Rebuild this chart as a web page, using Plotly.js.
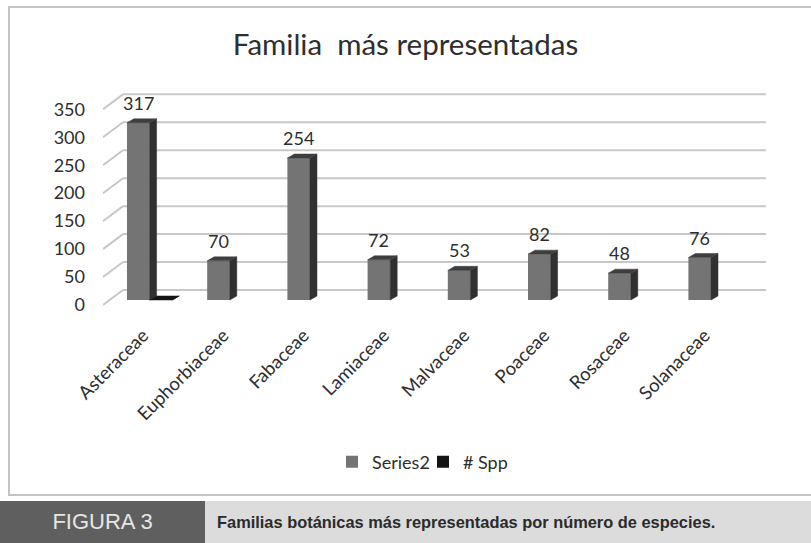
<!DOCTYPE html>
<html>
<head>
<meta charset="utf-8">
<script src="https://cdn.plot.ly/plotly-3.0.1.min.js"></script>
<style>
  html, body { margin: 0; padding: 0; background: #ffffff; }
  #wrap { position: relative; width: 811px; height: 543px; overflow: hidden; }
  #chart { position: absolute; left: 0; top: 0; width: 811px; height: 543px; }
  #frame { position: absolute; left: 8px; top: 6px; width: 810px; height: 486px;
           border: 2px solid #c4c4c4; border-right: none; pointer-events: none; }
  #capL { position: absolute; left: 0; top: 501px; width: 205px; height: 42px; background: #5f5f5f;
          color: #e6e6e6; font-family: "Liberation Sans", Arial, sans-serif; font-size: 22px;
          line-height: 42px; text-align: center; }
  #capR { position: absolute; left: 205px; top: 501px; width: 606px; height: 42px; background: #dcdcdc;
          color: #2b2b2b; font-family: "Liberation Sans Narrow", "Liberation Sans", Arial, sans-serif;
          font-size: 16.4px; font-weight: bold; line-height: 42px; padding-left: 12px; box-sizing: border-box; }
</style>
</head>
<body>
<div id="wrap">
  <div id="chart"></div>
  <div id="frame"></div>
  <div id="capL">FIGURA 3</div>
  <div id="capR">Familias botánicas más representadas por número de especies.</div>
</div>
<script>
// ---- data ----
const categories = ['Asteraceae','Euphorbiaceae','Fabaceae','Lamiaceae','Malvaceae','Poaceae','Rosaceae','Solanaceae'];
const series2 = [317, 70, 254, 72, 53, 82, 48, 76];
const spp = [0, null, null, null, null, null, null, null];
const yTicks = [0, 50, 100, 150, 200, 250, 300, 350];
const seriesNames = ['Series2', '# Spp'];
const chartTitle = 'Familia\u00a0 más representadas';

// ---- pseudo-3D geometry (style) ----
const S2_OFF = -0.121, SPP_OFF = 0.161, BAR_W = 0.282, BASE = 8.9;
const DX = 0.087, DY = 7.2;
const WALL_X0 = -0.561, WALL_DX = 0.249, WALL_DY = 26.8, WALL_X1 = 7.706;
const TICK_OFF = -0.06;
const FRONT = '#747474', SIDE = '#303030', TOP = '#3e3e3e', BLACK = '#141414';

const idx = categories.map((c, i) => i);

function faces(values, off) {
  const side = {x: [], y: []}, top = {x: [], y: []};
  values.forEach((v, i) => {
    if (v === null) return;
    const xl = i + off - BAR_W / 2, xr = i + off + BAR_W / 2;
    const y0 = BASE, y1 = BASE + v;
    side.x.push(xr, xr + DX, xr + DX, xr, xr, null);
    side.y.push(y0, y0 + DY, y1 + DY, y1, y0, null);
    top.x.push(xl, xl + DX, xr + DX, xr, xl, null);
    top.y.push(y1, y1 + DY, y1 + DY, y1, y1, null);
  });
  return {side, top};
}
const f2 = faces(series2, S2_OFF);
const fs = faces(spp, SPP_OFF);

function poly(p, color) {
  return {type: 'scatter', mode: 'lines', x: p.x, y: p.y, fill: 'toself', fillcolor: color,
          line: {color: color, width: 0.5}, showlegend: false, hoverinfo: 'skip'};
}

const traces = [
  {type: 'bar', name: seriesNames[0], x: idx.map(i => i + S2_OFF), y: series2, base: BASE,
   width: BAR_W, marker: {color: FRONT, line: {width: 0}}, hoverinfo: 'skip'},
  {type: 'bar', name: seriesNames[1], x: idx.map(i => i + SPP_OFF), y: spp, base: BASE,
   width: BAR_W, marker: {color: BLACK, line: {width: 0}}, hoverinfo: 'skip'},
  poly(f2.side, SIDE), poly(f2.top, TOP),
  poly(fs.side, BLACK), poly(fs.top, BLACK)
];

const shapes = [];
yTicks.forEach(t => {
  shapes.push({type: 'line', xref: 'x', yref: 'y', layer: 'below',
               x0: WALL_X0, y0: t, x1: WALL_X0 + WALL_DX, y1: t + WALL_DY,
               line: {color: '#c8c8c8', width: 2}});
  shapes.push({type: 'line', xref: 'x', yref: 'y', layer: 'below',
               x0: WALL_X0 + WALL_DX, y0: t + WALL_DY, x1: WALL_X1, y1: t + WALL_DY,
               line: {color: '#c8c8c8', width: 2}});
});

const annotations = series2.map((v, i) => ({
  x: i + S2_OFF, y: BASE + v, xref: 'x', yref: 'y', text: String(v), showarrow: false,
  yanchor: 'middle', yshift: 20, font: {family: 'Lato, sans-serif', size: 18, color: '#2e2e2e'}
}));

const layout = {
  width: 811, height: 543,
  margin: {l: 103, r: 31, t: 93, b: 226},
  paper_bgcolor: 'rgba(0,0,0,0)', plot_bgcolor: 'rgba(0,0,0,0)',
  barmode: 'overlay',
  title: {text: chartTitle, x: 0.5, xref: 'container', xanchor: 'center',
          y: 1 - 45 / 543, yref: 'container', yanchor: 'middle',
          font: {family: 'Lato, sans-serif', size: 29.5, color: '#2e2e2e'}},
  xaxis: {range: [-0.561, 7.880], tickvals: idx.map(i => i + TICK_OFF), ticktext: categories, tickangle: -45,
          showgrid: false, zeroline: false, showline: false, ticks: '', ticklabelstandoff: 3,
          tickfont: {family: 'Lato, sans-serif', size: 18.5, color: '#2e2e2e'}},
  yaxis: {range: [-21.5, 379.2], tickvals: yTicks, ticktext: yTicks.map(String),
          showgrid: false, zeroline: false, showline: false, ticks: '', ticklabelstandoff: 17,
          tickfont: {family: 'Lato, sans-serif', size: 18, color: '#2e2e2e'}},
  legend: {orientation: 'h', xref: 'container', yref: 'container', x: 423 / 811, xanchor: 'center',
           y: 1 - 462 / 543, yanchor: 'middle', bgcolor: 'rgba(0,0,0,0)',
           entrywidth: 46, entrywidthmode: 'pixels',
           font: {family: 'Lato, sans-serif', size: 18, color: '#2e2e2e'}},
  shapes: shapes,
  annotations: annotations
};

Plotly.newPlot('chart', traces, layout, {displayModeBar: false, staticPlot: true});
</script>
</body>
</html>
